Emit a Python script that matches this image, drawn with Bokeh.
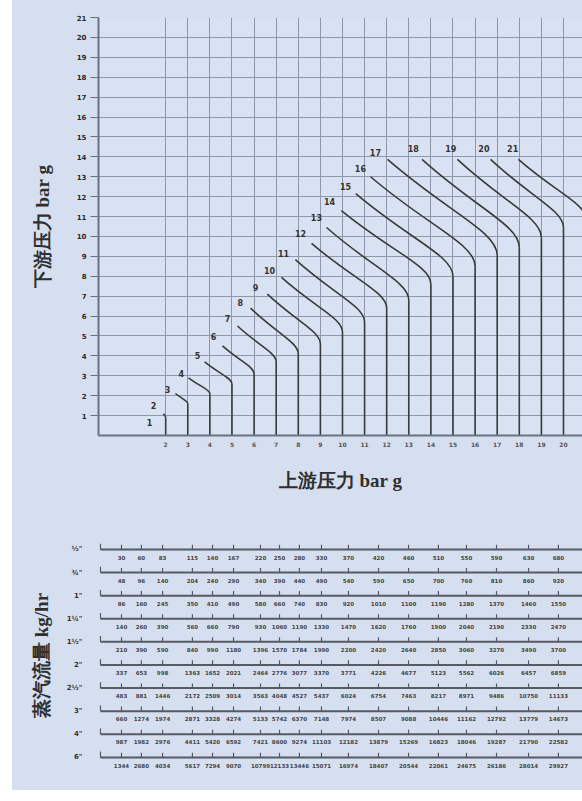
from bokeh.plotting import figure
from bokeh.models import Range1d, FixedTicker, ColumnDataSource, Spacer
from bokeh.layouts import column, row
from bokeh.embed import file_html
from bokeh.resources import INLINE
from bokeh.core.properties import value

BG = "#d6dff0"
PLOT_BG = "#d9e2f2"
GRID = "#8f98aa"
AXIS = "#6a7282"
INK = "#3a3a3a"

# ---------------- top chart data ----------------
curve_ids = list(range(2, 22))          # upstream pressure where the curve turns vertical
start_x = [1.9, 2.44, 3.03, 3.76, 4.57, 5.25, 5.84, 6.6, 7.24, 7.87, 8.6, 9.28,
           9.95, 10.6, 11.27, 12.04, 13.6, 15.2, 16.7, 17.96]
start_y = [1.1, 2.11, 2.9, 3.7, 4.5, 5.5, 6.4, 7.1, 7.94, 8.84, 9.65, 10.45,
           11.3, 12.15, 13.0, 13.87, 13.87, 13.87, 13.87, 13.87]
knee_y = [0.9, 1.6, 2.1, 2.6, 3.1, 3.7, 4.1, 4.6, 5.2, 5.7, 6.4, 6.8,
          7.6, 8.0, 8.5, 9.05, 9.45, 9.95, 10.45, 10.9]

label_text = [str(i) for i in range(1, 22)]
label_x = [1.27, 1.45, 2.08, 2.71, 3.44, 4.16, 4.8, 5.38, 6.06, 6.7, 7.33, 8.1,
           8.82, 9.41, 10.14, 10.81, 11.49, 13.2, 14.9, 16.4, 17.7]
label_y = [0.65, 1.5, 2.31, 3.12, 4.02, 4.97, 5.88, 6.68, 7.44, 8.29, 9.15, 10.15,
           10.95, 11.76, 12.51, 13.42, 14.22, 14.42, 14.42, 14.42, 14.42]

y_ticks = list(range(1, 22))
x_ticks = list(range(2, 22))

# ---------------- bottom chart data ----------------
valve_sizes = ['½"', '¾"', '1"', '1¼"', '1½"', '2"', '2½"', '3"', '4"', '6"']
scale_pos = [0.0, 0.9, 1.86, 3.21, 4.12, 5.07, 6.29, 7.15, 8.05, 9.05, 10.27,
             11.63, 12.99, 14.34, 15.61, 16.97, 18.42, 19.77]
flow_half = [30, 60, 83, 115, 140, 167, 220, 250, 280, 330, 370, 420, 460, 510, 550, 590, 630, 680]
flow_3q = [48, 96, 140, 204, 240, 290, 340, 390, 440, 490, 540, 590, 650, 700, 760, 810, 860, 920]
flow_1 = [86, 160, 245, 350, 410, 490, 580, 660, 740, 830, 920, 1010, 1100, 1190, 1280, 1370, 1460, 1550]
flow_1q = [140, 260, 390, 560, 660, 790, 930, 1060, 1190, 1330, 1470, 1620, 1760, 1900, 2040, 2190, 2330, 2470]
flow_1h = [210, 390, 590, 840, 990, 1180, 1396, 1570, 1784, 1990, 2200, 2420, 2640, 2850, 3060, 3270, 3490, 3700]
flow_2 = [337, 653, 998, 1363, 1652, 2021, 2464, 2776, 3077, 3370, 3771, 4226, 4677, 5123, 5562, 6026, 6457, 6859]
flow_2h = [483, 881, 1446, 2172, 2509, 3014, 3563, 4048, 4527, 5437, 6024, 6754, 7463, 8217, 8971, 9486, 10750, 11133]
flow_3 = [660, 1274, 1974, 2871, 3328, 4274, 5133, 5742, 6370, 7148, 7974, 8507, 9088, 10446, 11162, 12792, 13779, 14673]
flow_4 = [987, 1982, 2976, 4411, 5420, 6592, 7421, 8600, 9274, 11103, 12182, 13879, 15269, 16823, 18046, 19287, 21790, 22582]
flow_6 = [1344, 2680, 4034, 5617, 7294, 9070, 10799, 12133, 13446, 15071, 16974, 18407, 20544, 22061, 24675, 26186, 28014, 29927]
flows = [flow_half, flow_3q, flow_1, flow_1q, flow_1h, flow_2, flow_2h, flow_3, flow_4, flow_6]

W = 570
x_rng = Range1d(-1.04, 20.86)

# ---------------- top figure ----------------
p = figure(width=W, height=500, x_range=x_rng, y_range=Range1d(0, 21),
           output_backend="svg", toolbar_location=None,
           min_border_left=86, min_border_right=0, min_border_top=17, min_border_bottom=65,
           background_fill_color=PLOT_BG, border_fill_color=None, outline_line_color=None)

p.xgrid.ticker = FixedTicker(ticks=x_ticks)
p.ygrid.ticker = FixedTicker(ticks=y_ticks)
for g in (p.xgrid, p.ygrid):
    g.grid_line_color = GRID
    g.grid_line_width = 1

p.yaxis.ticker = FixedTicker(ticks=y_ticks)
p.xaxis.ticker = FixedTicker(ticks=x_ticks)
for ax in (p.xaxis, p.yaxis):
    ax.axis_line_color = AXIS
    ax.axis_line_width = 2
    ax.major_tick_line_color = AXIS
    ax.major_tick_in = 0
    ax.minor_tick_line_color = None
    ax.major_label_text_font = "DejaVu Sans"
    ax.major_label_text_font_style = "bold"
    ax.axis_label_text_font = "Liberation Serif"
    ax.axis_label_text_font_style = "bold"
    ax.axis_label_text_font_size = "19px"
    ax.axis_label_text_color = "#2f2f2f"
p.yaxis.major_tick_out = 8
p.yaxis.major_label_text_font_size = "7px"
p.yaxis.major_label_text_color = "#2a2a2a"
p.yaxis.major_label_standoff = 4
p.yaxis.axis_label = "下游压力 bar g"
p.yaxis.axis_label_standoff = 21
p.xaxis.major_tick_out = 0
p.xaxis.major_label_text_font_size = "6px"
p.xaxis.major_label_text_color = "#555555"
p.xaxis.major_label_standoff = 6
p.xaxis.axis_label = "上游压力 bar g"
p.xaxis.axis_label_standoff = 20

# curves: bezier from start to knee, then vertical down to 0
cx0, cy0, cx1, cy1 = [], [], [], []
for xs, ys, xk, yk in zip(start_x, start_y, curve_ids, knee_y):
    dx, dy = xk - xs, ys - yk
    cx0.append(xs + 0.55 * dx)
    cy0.append(ys - 0.55 * dy)
    cx1.append(xk)
    cy1.append(yk + 0.25 * dy)
csrc = ColumnDataSource(dict(x0=start_x, y0=start_y, x1=curve_ids, y1=knee_y,
                             cx0=cx0, cy0=cy0, cx1=cx1, cy1=cy1,
                             zero=[0] * len(curve_ids)))
p.bezier(x0="x0", y0="y0", x1="x1", y1="y1", cx0="cx0", cy0="cy0", cx1="cx1", cy1="cy1",
         source=csrc, line_color=INK, line_width=1.6)
p.segment(x0="x1", y0="y1", x1="x1", y1="zero", source=csrc, line_color=INK, line_width=1.6)

p.text(x=label_x, y=label_y, text=label_text, text_font=value("DejaVu Sans"),
       text_font_style="bold", text_font_size="8px", text_color="#333333",
       text_align="center", text_baseline="middle")

# ---------------- bottom figure ----------------
n_rows = len(valve_sizes)
q = figure(width=W, height=290, x_range=x_rng, y_range=Range1d(10.0, -0.82),
           output_backend="svg", toolbar_location=None, x_axis_location=None,
           min_border_left=86, min_border_right=0, min_border_top=30, min_border_bottom=10,
           background_fill_color=None, border_fill_color=None, outline_line_color=None)
q.grid.visible = False
q.yaxis.ticker = FixedTicker(ticks=list(range(n_rows)))
q.yaxis.major_label_overrides = {i: s for i, s in enumerate(valve_sizes)}
q.yaxis.axis_line_color = None
q.yaxis.major_tick_line_color = None
q.yaxis.minor_tick_line_color = None
q.yaxis.major_label_standoff = 10
q.yaxis.major_label_text_font = "DejaVu Sans"
q.yaxis.major_label_text_font_style = "bold"
q.yaxis.major_label_text_font_size = "7px"
q.yaxis.major_label_text_color = "#333333"
q.yaxis.axis_label = "蒸汽流量 kg/hr"
q.yaxis.axis_label_text_font = "Liberation Serif"
q.yaxis.axis_label_text_font_style = "bold"
q.yaxis.axis_label_text_font_size = "19px"
q.yaxis.axis_label_text_color = "#2f2f2f"
q.yaxis.axis_label_standoff = 12

rows = list(range(n_rows))
q.segment(x0=[-0.95] * n_rows, y0=rows, x1=[21.0] * n_rows, y1=rows,
          line_color="#555a63", line_width=2)
q.segment(x0=[-0.95] * n_rows, y0=rows, x1=[-0.95] * n_rows, y1=[r - 0.25 for r in rows],
          line_color="#555a63", line_width=1.2)

tx, ty0, ty1, lx, ly, lt = [], [], [], [], [], []
for r, vals in enumerate(flows):
    for xpos, v in zip(scale_pos, vals):
        tx.append(xpos); ty0.append(r); ty1.append(r - 0.2)
        lx.append(xpos); ly.append(r + 0.33); lt.append(str(v))
q.segment(x0=tx, y0=ty0, x1=tx, y1=ty1, line_color="#555a63", line_width=1.2)
q.text(x=lx, y=ly, text=lt, text_font=value("DejaVu Sans"), text_font_style="bold",
       text_font_size="5.5px", text_color="#444444", text_align="center",
       text_baseline="middle")

panel = column(p, q, spacing=0, styles={"background-color": BG})
layout = row(Spacer(width=12, height=790), panel, spacing=0)
open("out.html", "w").write(file_html(layout, INLINE))
